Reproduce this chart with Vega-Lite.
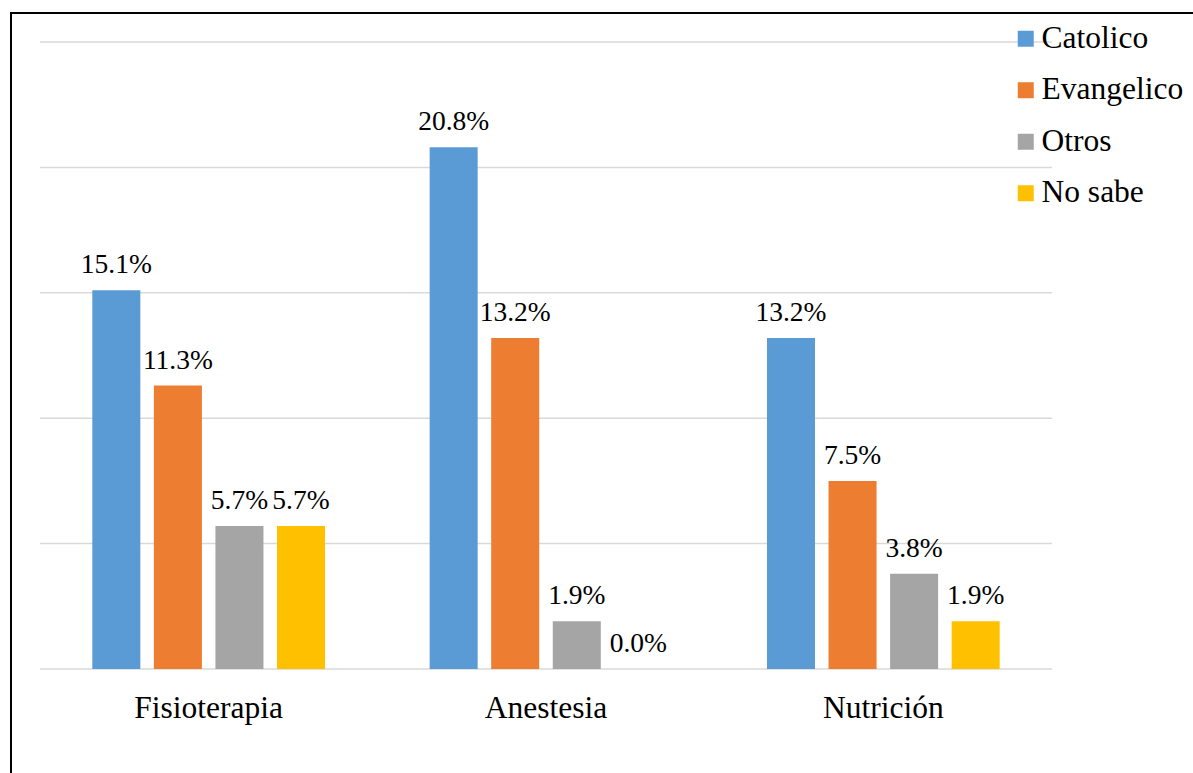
{
  "$schema": "https://vega.github.io/schema/vega-lite/v6.json",
  "width": 1186,
  "height": 764,
  "autosize": {"type": "none"},
  "padding": {"left": 11, "top": 13, "right": 0, "bottom": 0},
  "background": "white",
  "config": {
    "font": "Liberation Serif",
    "text": {"font": "Liberation Serif"},
    "legend": {"labelFont": "Liberation Serif"},
    "axis": {"labelFont": "Liberation Serif"},
    "view": {"stroke": "black", "strokeWidth": 2}
  },
  "data": {
    "values": [
      {"carrera": "Fisioterapia", "religion": "Catolico", "value": 15.1},
      {"carrera": "Fisioterapia", "religion": "Evangelico", "value": 11.3},
      {"carrera": "Fisioterapia", "religion": "Otros", "value": 5.7},
      {"carrera": "Fisioterapia", "religion": "No sabe", "value": 5.7},
      {"carrera": "Anestesia", "religion": "Catolico", "value": 20.8},
      {"carrera": "Anestesia", "religion": "Evangelico", "value": 13.2},
      {"carrera": "Anestesia", "religion": "Otros", "value": 1.9},
      {"carrera": "Anestesia", "religion": "No sabe", "value": 0.0},
      {"carrera": "Nutrición", "religion": "Catolico", "value": 13.2},
      {"carrera": "Nutrición", "religion": "Evangelico", "value": 7.5},
      {"carrera": "Nutrición", "religion": "Otros", "value": 3.8},
      {"carrera": "Nutrición", "religion": "No sabe", "value": 1.9}
    ]
  },
  "resolve": {"scale": {"x": "independent"}, "axis": {"x": "independent"}},
  "layer": [
    {
      "data": {"values": [{"g": 0}, {"g": 5}, {"g": 10}, {"g": 15}, {"g": 20}, {"g": 25}]},
      "mark": {"type": "rule", "stroke": "#d9d9d9", "strokeWidth": 1.5},
      "encoding": {
        "y": {"field": "g", "type": "quantitative", "scale": {"domain": [-4.306, 26.156], "nice": false, "zero": false}, "axis": null},
        "x": {"datum": 0, "type": "quantitative", "scale": {"domain": [-0.028656, 1.143281], "nice": false, "zero": false}, "axis": null},
        "x2": {"datum": 1}
      }
    },
    {
      "layer": [
        {
          "mark": {"type": "bar"},
          "encoding": {
            "y": {"field": "value", "type": "quantitative", "axis": null},
            "y2": {"datum": 0},
            "color": {
              "field": "religion", "type": "nominal",
              "scale": {"domain": ["Catolico", "Evangelico", "Otros", "No sabe"], "range": ["#5b9bd5", "#ed7d31", "#a5a5a5", "#ffc000"]},
              "legend": {
                "title": null, "orient": "none", "legendX": 999, "legendY": 10,
                "padding": 0, "symbolType": "square", "symbolSize": 256, "symbolStrokeWidth": 0,
                "labelFontSize": 31.5, "labelFont": "Liberation Serif", "labelColor": "black",
                "labelOffset": 0, "rowPadding": 18.5, "labelLimit": 300
              }
            }
          }
        },
        {
          "transform": [{"calculate": "format(datum.value, '.1f') + '%'", "as": "label"}],
          "mark": {"type": "text", "font": "Liberation Serif", "fontSize": 27.5, "baseline": "alphabetic", "dy": -17, "color": "black"},
          "encoding": {
            "y": {"field": "value", "type": "quantitative"},
            "text": {"field": "label", "type": "nominal"}
          }
        }
      ],
      "encoding": {
        "x": {
          "field": "carrera", "type": "nominal",
          "sort": ["Fisioterapia", "Anestesia", "Nutrición"],
          "scale": {"type": "band", "range": [29, 1041], "paddingInner": 0.27, "paddingOuter": 0.135},
          "axis": {
            "title": null, "orient": "bottom", "offset": -108, "domain": false, "ticks": false,
            "labelAngle": 0, "labelFontSize": 31.5, "labelColor": "black", "labelFont": "Liberation Serif",
            "labelPadding": 48, "labelBaseline": "alphabetic", "grid": false
          }
        },
        "xOffset": {
          "field": "religion", "type": "nominal",
          "sort": ["Catolico", "Evangelico", "Otros", "No sabe"],
          "scale": {"paddingInner": 0.22, "paddingOuter": 0.11}
        }
      }
    }
  ]
}
